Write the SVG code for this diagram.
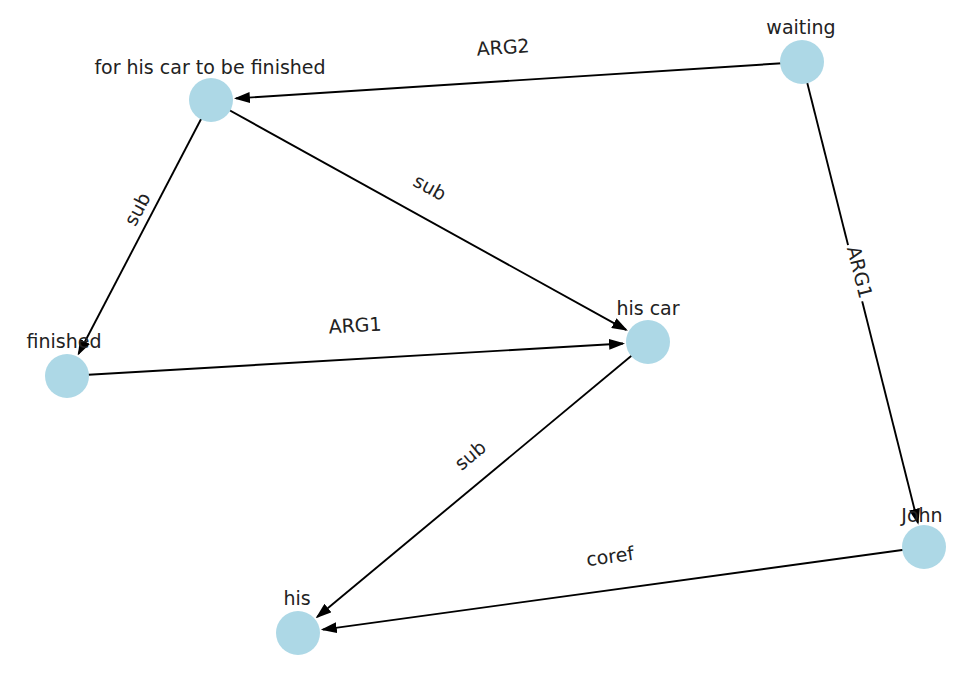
<svg xmlns="http://www.w3.org/2000/svg" width="976" height="674" viewBox="0 0 976 674">
<defs>
<marker id="arr" viewBox="0 0 16 11" markerWidth="16" markerHeight="11" markerUnits="userSpaceOnUse" refX="14" refY="5.5" orient="auto">
<path d="M0,0 L16,5.5 L0,11 z" fill="#000"/>
</marker>
<style>
.e{stroke:#000;stroke-width:1.9;fill:none;marker-end:url(#arr)}
.n{fill:#ADD8E6}
.t{font-family:"DejaVu Sans",sans-serif;font-size:19px;fill:#222;text-anchor:middle}
.el{font-family:"DejaVu Sans",sans-serif;font-size:19px;fill:#222;text-anchor:middle;dominant-baseline:central}
.bb{fill:#fff}
</style>
</defs>
<rect width="976" height="674" fill="#fff"/>
<g id="edges">
<line class="e" x1="802" y1="62" x2="235.9" y2="98.4"/>
<line class="e" x1="211" y1="100" x2="78.6" y2="353.8"/>
<line class="e" x1="211" y1="100" x2="626.1" y2="329.9"/>
<line class="e" x1="67" y1="376" x2="623" y2="343.5"/>
<line class="e" x1="648" y1="342" x2="317.2" y2="617"/>
<line class="e" x1="802" y1="62" x2="917.9" y2="522.8"/>
<line class="e" x1="924" y1="547" x2="322.8" y2="629.6"/>
</g>
<g id="edge-labels">
<g transform="translate(503,47) rotate(-3.7)"><rect class="bb" x="-29" y="-11" width="58" height="22"/><text class="el">ARG2</text></g>
<g transform="translate(137,209) rotate(-62.4)"><rect class="bb" x="-20" y="-12" width="40" height="24"/><text class="el">sub</text></g>
<g transform="translate(430,187) rotate(29)"><rect class="bb" x="-20" y="-11" width="40" height="22"/><text class="el">sub</text></g>
<g transform="translate(355,325) rotate(-3.3)"><rect class="bb" x="-29" y="-11" width="58" height="22"/><text class="el">ARG1</text></g>
<g transform="translate(470,455) rotate(-39.7)"><rect class="bb" x="-20" y="-11" width="40" height="22"/><text class="el">sub</text></g>
<g transform="translate(860,272) rotate(75.9)"><rect class="bb" x="-29" y="-11" width="58" height="22"/><text class="el">ARG1</text></g>
<g transform="translate(610,556) rotate(-7.8)"><rect class="bb" x="-27" y="-11" width="54" height="22"/><text class="el">coref</text></g>
</g>
<g id="node-waiting"><circle class="n" cx="802" cy="62" r="22"/><text class="t" x="801" y="34">waiting</text></g>
<g id="node-for-his-car"><circle class="n" cx="211" cy="100" r="22"/><text class="t" x="210" y="74">for his car to be finished</text></g>
<g id="node-finished"><circle class="n" cx="67" cy="376" r="22"/><text class="t" x="64" y="348">finished</text></g>
<g id="node-his-car"><circle class="n" cx="648" cy="342" r="22"/><text class="t" x="648" y="315">his car</text></g>
<g id="node-his"><circle class="n" cx="298" cy="633" r="22"/><text class="t" x="297" y="605">his</text></g>
<g id="node-john"><circle class="n" cx="924" cy="547" r="22"/><text class="t" x="922" y="522">John</text></g>
</svg>
